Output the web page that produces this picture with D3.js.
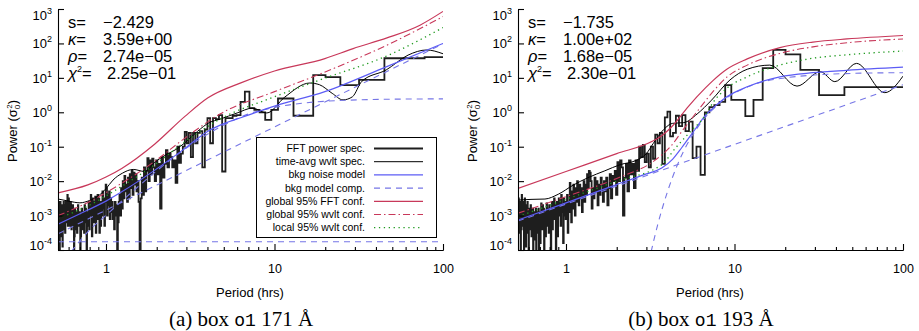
<!DOCTYPE html>
<html><head><meta charset="utf-8">
<script src="https://cdn.jsdelivr.net/npm/d3@7"></script>
<style>
body{margin:0;background:#fff}
svg{display:block}
text{font-family:"Liberation Sans",Arial,sans-serif;fill:#000}
</style>
</head><body>
<svg id="chart" width="919" height="331"></svg>
<script>
// ---------------- DATA ----------------
const DURATION_HRS = 110;               // FFT bin k sits at period DURATION_HRS / k
const periodDomain = [0.519, 100];
const powerDomain = [1e-4, 1e3];
const xTickMajor = [1, 10, 100];
const xTickMinor = [0.6,0.7,0.8,0.9,2,3,4,5,6,7,8,9,20,30,40,50,60,70,80,90];
const yTickExponents = [-4,-3,-2,-1,0,1,2,3];

const statLabels = ["s=", "κ=", "ρ=", "χ"];
const stats171 = ["−2.429", "3.59e+00", "2.74e−05", "2.25e−01"];
const stats193 = ["−1.735", "1.00e+02", "1.68e−05", "2.30e−01"];

const legendLabels = ["FFT power spec.","time-avg wvlt spec.","bkg noise model","bkg model comp.",
  "global 95% FFT conf.","global 95% wvlt conf.","local 95% wvlt conf."];

// FFT power, log10(sigma0^2), bin k = 1,2,3,... (period DURATION_HRS/k)
const fftLog10_171 = [
 1.6,1.57,0.94,0.79,1.02,1.08,-0.1,-0.1,0.40,0.40,
 0.07,-0.22,0.0,0.07,0.12,0.6,0.3,-0.08,-0.1,-0.17,
 -0.17,-1.72,-0.08,-0.2,-0.17,-0.9,-0.17,-0.5,-1.6,-0.55,
 -0.6,-0.9,-0.6,-1.3,-0.6,-0.9,-0.57,-1.0,-1.2,-1.47,
 -1.0,-2.05,-1.4,-1.6,-1.3,-1.2,-1.6,-1.1,-1.5,-1.9,
 -1.3,-2.8,-1.5,-1.8,-1.4,-2.0,-1.6,-1.35,-1.8,-1.4,
 -2.0,-1.33,-1.7,-2.3,-1.6,-2.4,-1.9,-2.5,-4.5,-2.6,
 -2.0,-2.3,-1.8,-2.1,-1.75,-2.4,-1.7,-2.2,-1.8,-2.5,
 -1.9,-2.6,-2.1,-2.3,-1.85,-2.5,-2.0,-2.8,-2.2,-3.0,
 -2.4,-2.6,-3.2,-4.3,-2.7,-3.0,-2.6,-3.4,-2.8,-3.1,
 -2.6,-2.9,-2.5,-3.1,-2.3,-2.7,-2.4,-3.0,-2.2,-2.1,
 -2.6,-3.3,-2.5,-2.8,-2.3,-3.0,-2.6,-3.3,-2.7,-3.5,
 -2.5,-2.9,-2.4,-3.1,-2.6,-3.5,-2.45,-2.8,-3.2,-2.6,
 -3.0,-2.5,-3.6,-2.7,-2.4,-3.0,-2.8,-3.4,-2.6,-3.1,
 -2.9,-3.3,-4.5,-3.0,-2.8,-3.2,-2.7,-3.5,-3.0,-2.9,
 -3.1,-3.4,-2.8,-3.0,-3.6,-4.5,-3.2,-2.9,-3.3,-3.0,
 -2.7,-3.1,-3.5,-2.9,-3.2,-3.4,-3.0,-2.8,-3.6,-4.5,
 -3.3,-3.0,-2.7,-3.2,-2.9,-3.4,-3.1,-2.6,-3.0,-3.3,
 -2.8,-3.1,-2.5,-2.9,-3.3,-2.4,-3.0,-2.7,-3.2,-2.6,
 -2.9,-3.5,-2.7,-3.1,-3.0,-2.6,-3.4,-2.8,-3.9,-3.0,
 -2.7,-3.2,-2.9,-3.6,-2.6,-3.1,-4.5,-2.8,-3.0,-3.3,-2.6,-3.2,-2.9,-3.5,-2.7,-3.0
];
const fftLog10_193 = [
 0.73,0.73,0.5,1.23,1.68,1.81,1.28,0.36,-0.11,0.36,
 0.36,0.79,0.3,0.21,0.15,0.0,-1.82,-1.0,-1.33,-0.27,
 -0.55,-0.08,-0.4,-0.1,-0.6,-0.7,0.02,-0.15,-1.5,-0.6,
 -0.9,-0.65,-1.35,-1.0,-1.6,-1.2,-1.45,-0.95,-1.3,-1.0,
 -1.7,-1.4,-2.2,-1.5,-1.8,-1.4,-2.3,-1.5,-1.9,-3.0,
 -1.6,-1.4,-2.0,-1.45,-2.4,-1.7,-2.0,-1.85,-2.5,-1.8,
 -2.2,-2.7,-1.9,-2.3,-2.0,-2.6,-2.1,-1.9,-2.4,-2.1,
 -2.7,-2.0,-2.3,-1.9,-2.5,-2.2,-2.8,-2.0,-1.75,-1.7,
 -2.2,-1.8,-2.4,-2.1,-2.6,-2.0,-2.4,-2.9,-2.2,-2.5,
 -2.1,-2.7,-2.3,-2.0,-2.6,-2.2,-3.0,-2.4,-2.1,-2.8,
 -2.3,-3.2,-2.5,-2.05,-2.9,-2.6,-3.5,-2.4,-2.8,-3.1,
 -2.6,-3.0,-2.5,-3.8,-2.7,-2.9,-2.4,-3.3,-2.7,-3.0,
 -2.5,-2.8,-3.6,-2.6,-2.9,-4.5,-2.7,-3.1,-2.5,-3.0,
 -2.9,-3.4,-2.6,-3.0,-4.5,-2.8,-3.2,-2.7,-3.5,-2.9,
 -2.8,-3.3,-2.65,-3.0,-3.6,-2.9,-3.2,-4.5,-2.8,-3.1,
 -2.7,-3.4,-3.0,-2.65,-3.3,-3.8,-2.9,-3.1,-4.5,-2.8,
 -3.2,-2.9,-3.5,-3.0,-4.5,-2.8,-3.3,-3.0,-3.7,-2.9,
 -3.1,-4.5,-2.8,-3.2,-2.9,-3.6,-3.0,-2.7,-3.4,-3.1,
 -2.8,-3.3,-4.5,-2.9,-3.0,-2.6,-3.5,-3.1,-2.8,-3.9,
 -2.7,-3.2,-2.5,-3.0,-4.5,-2.8,-3.3,-2.6,-3.1,-2.9,
 -2.4,-3.4,-2.7,-4.5,-3.0,-2.6,-3.2,-2.8,-3.5,-2.5,-3.0,-2.7,-3.3,-2.6
];

// Smooth curves: [period (hrs), log10 power]
const waveletAvg_171 = [[0.52,-2.52],[0.6,-2.58],[0.7,-2.63],[0.8,-2.56],[0.9,-2.43],[1.0,-2.22],[1.1,-1.97],[1.25,-1.77],[1.45,-1.66],[1.7,-1.72],[1.95,-1.45],[2.3,-1.22],[2.6,-1.08],[2.95,-0.88],[3.5,-0.55],[4.1,-0.3],[4.75,-0.2],[6.0,-0.02],[7.4,0.12],[9.0,-0.02],[11.5,0.44],[16.2,0.85],[18.5,0.8],[22,0.55],[25.5,0.36],[29,0.45],[33,0.9],[46,1.23],[62,1.66],[80,1.81],[100,1.7]];
const bkgModel_171 = [[0.519,-3.25],[0.78,-2.84],[1.0,-2.58],[1.24,-2.31],[1.95,-1.68],[2.94,-1.05],[4.03,-0.55],[5.0,-0.33],[6.37,-0.15],[10,0.18],[19.9,0.6],[46,1.32],[100,2.0]];
const powerLaw_171 = [[0.519,-3.53],[100,1.99]];
const kappa_171 = [[0.62,-4.05],[0.8,-3.42],[1.0,-2.99],[1.5,-2.22],[2.0,-1.7],[3.0,-1.04],[5.0,-0.37],[7.0,-0.05],[10,0.14],[20,0.32],[50,0.38],[100,0.39]];
const constant_171 = [[0.519,-3.76],[100,-3.76]];
const fftConf_171 = [[0.519,-2.34],[0.78,-2.11],[1.0,-1.88],[1.24,-1.63],[1.95,-0.92],[2.94,-0.12],[4.03,0.42],[6.37,0.86],[10,1.2],[19.9,1.56],[29.3,1.85],[46.5,2.16],[73,2.53],[100,2.93]];
const wvltGlobal_171 = [[0.519,-3.0],[0.78,-2.62],[1.24,-2.06],[1.95,-1.42],[2.94,-0.75],[4.75,-0.05],[10,0.6],[18.6,1.11],[46.5,1.95],[100,2.78]];
const wvltLocal_171 = [[0.519,-3.08],[0.78,-2.72],[1.24,-2.15],[1.95,-1.52],[2.94,-0.86],[4.75,-0.2],[10,0.45],[18.6,0.94],[46.5,1.64],[100,2.46]];

const waveletAvg_193 = [[0.52,-2.55],[0.62,-2.53],[0.75,-2.52],[0.9,-2.38],[1.1,-2.12],[1.35,-1.9],[1.7,-1.7],[2.1,-1.52],[2.6,-1.4],[3.0,-1.2],[3.3,-0.9],[3.8,-0.5],[4.3,-0.32],[5.0,-0.3],[6.0,-0.05],[7.3,0.35],[9.4,0.94],[11.9,1.25],[16.2,1.37],[23.5,0.76],[32.3,1.18],[39.4,0.89],[53,1.42],[78,0.57],[100,1.05]];
const bkgModel_193 = [[0.519,-3.13],[1.0,-2.63],[2.0,-2.1],[3.0,-1.79],[3.7,-1.62],[4.3,-1.36],[4.86,-1.03],[5.83,-0.5],[6.7,-0.1],[7.45,0.12],[9,0.45],[11.9,0.74],[18.6,1.03],[29.2,1.15],[46.5,1.22],[100,1.31]];
const powerLaw_193 = [[0.519,-3.16],[100,0.8]];
const kappa_193 = [[3.2,-4.05],[3.5,-3.27],[4.0,-2.31],[4.5,-1.62],[5.0,-1.12],[6.0,-0.46],[8.0,0.23],[12,0.74],[20,1.0],[50,1.13],[100,1.15]];
const fftConf_193 = [[0.519,-2.21],[1.0,-1.72],[2.0,-1.2],[3.23,-0.85],[3.7,-0.68],[4.24,-0.42],[5.3,0.16],[6.7,0.7],[7.45,0.92],[9,1.25],[11.9,1.55],[18.6,1.88],[29.2,2.04],[46.5,2.13],[100,2.23]];
const wvltGlobal_193 = [[0.519,-2.93],[1.0,-2.45],[2.0,-1.92],[3.38,-1.39],[4.2,-0.98],[5.0,-0.48],[6.0,0.02],[7.45,0.6],[9,1.02],[11.9,1.37],[18.6,1.71],[29.2,1.9],[46.5,2.02],[100,2.13]];
const wvltLocal_193 = [[0.519,-3.03],[1.0,-2.53],[2.0,-2.0],[3.7,-1.52],[4.5,-1.02],[5.5,-0.55],[6.7,-0.1],[7.45,0.28],[9,0.7],[11.9,1.03],[18.6,1.37],[29.2,1.57],[46.5,1.67],[100,1.78]];

// ---------------- STYLES ----------------
const ST = {
  fft:   {stroke:"#1e1e1e", width:1.8, dash:null},
  wav:   {stroke:"#000", width:1, dash:null},
  model: {stroke:"#5c5cf5", width:1.2, dash:null},
  comp:  {stroke:"#7676e6", width:1.1, dash:"6,5"},
  fconf: {stroke:"#c8385a", width:1.2, dash:null},
  gconf: {stroke:"#c8385a", width:1.1, dash:"7,3,1.5,3"},
  lconf: {stroke:"#1f9a1f", width:1.3, dash:"1.3,3.6"}
};

const panels = [
  {id:"a", ox:0, fft:fftLog10_171, wav:waveletAvg_171, model:bkgModel_171,
   comps:[powerLaw_171, kappa_171, constant_171], fconf:fftConf_171, gconf:wvltGlobal_171, lconf:wvltLocal_171,
   stats:stats171, cap:["(a) box ","o1"," 171 Å"], legend:true},
  {id:"b", ox:460, fft:fftLog10_193, wav:waveletAvg_193, model:bkgModel_193,
   comps:[powerLaw_193, kappa_193], fconf:fftConf_193, gconf:wvltGlobal_193, lconf:wvltLocal_193,
   stats:stats193, cap:["(b) box ","o1"," 193 Å"], legend:false}
];

const svg = d3.select("#chart");
const L = 58, R = 443, T = 9, B = 250;

function styleLine(sel, s){
  sel.attr("fill","none").attr("stroke",s.stroke).attr("stroke-width",s.width);
  if (s.dash) sel.attr("stroke-dasharray", s.dash);
  return sel;
}

panels.forEach(P => {
  const g = svg.append("g").attr("transform", `translate(${P.ox},0)`);
  const x = d3.scaleLog().domain(periodDomain).range([L, R]);
  const y = d3.scaleLog().domain(powerDomain).range([B, T]);
  const yv = v => y(Math.pow(10, v));

  g.append("clipPath").attr("id","clip"+P.id).append("rect")
    .attr("x",L).attr("y",T).attr("width",R-L).attr("height",B-T);
  const plot = g.append("g").attr("clip-path",`url(#clip${P.id})`);

  const smooth = d3.line().x(d => x(d[0])).y(d => yv(d[1])).curve(d3.curveMonotoneX);
  const step = d3.line().x(d => x(d[0])).y(d => yv(d[1])).curve(d3.curveStep);

  const fftPts = P.fft.map((v,i) => [DURATION_HRS/(i+1), v]).reverse();
  styleLine(plot.append("path").attr("d", step(fftPts)), ST.fft).attr("stroke-linejoin","miter");
  styleLine(plot.append("path").attr("d", smooth(P.wav)), ST.wav);
  P.comps.forEach(c => styleLine(plot.append("path").attr("d", smooth(c)), ST.comp));
  styleLine(plot.append("path").attr("d", smooth(P.model)), ST.model);
  styleLine(plot.append("path").attr("d", smooth(P.fconf)), ST.fconf);
  styleLine(plot.append("path").attr("d", smooth(P.gconf)), ST.gconf);
  styleLine(plot.append("path").attr("d", smooth(P.lconf)), ST.lconf);

  // axes
  const axMinor = d3.axisBottom(x).tickValues(xTickMinor).tickSizeInner(-3).tickSizeOuter(0).tickFormat("");
  const axMajor = d3.axisBottom(x).tickValues(xTickMajor).tickSizeInner(-6).tickSizeOuter(0)
    .tickPadding(14).tickFormat(d3.format("d"));
  const gx1 = g.append("g").attr("transform",`translate(0,${B})`).call(axMinor);
  const gx2 = g.append("g").attr("transform",`translate(0,${B})`).call(axMajor);
  const axY = d3.axisLeft(y).tickValues(yTickExponents.map(e => Math.pow(10,e)))
    .tickSizeInner(-6).tickSizeOuter(0).tickFormat("");
  const gy = g.append("g").attr("transform",`translate(${L},0)`).call(axY);
  [gx1,gx2,gy].forEach(a => {
    a.selectAll("path,line").attr("stroke","#000").attr("stroke-width",1.1);
    a.selectAll("text").style("font-family","Liberation Sans, Arial, sans-serif").style("font-size","12.5px").attr("fill","#000");
  });

  // y tick labels 10^n
  yTickExponents.forEach(e => {
    const off = e === 3 ? 10.5 : (e === -4 ? 0 : 5);
    const t = g.append("text").attr("x", 52).attr("y", y(Math.pow(10,e)) + off)
      .attr("text-anchor","end").style("font-size","13px");
    t.append("tspan").text("10");
    t.append("tspan").attr("dy",-6).style("font-size","9px").text(String(e));
  });

  // axis titles
  g.append("text").attr("x", 250).attr("y", 297).attr("text-anchor","middle")
    .style("font-size","13px").text("Period (hrs)");
  const yl = g.append("text").attr("transform","translate(17,131) rotate(-90)")
    .attr("text-anchor","middle").style("font-size","13px");
  yl.append("tspan").text("Power (σ");
  yl.append("tspan").attr("dy",3).style("font-size","8px").text("0");
  yl.append("tspan").attr("dy",-8).attr("dx",-4).style("font-size","8px").text("2");
  yl.append("tspan").attr("dy",5).text(")");

  // stats block
  const baseY = [28, 45, 62, 78.5];
  statLabels.forEach((lab,i) => {
    const t = g.append("text").attr("x",68).attr("y",baseY[i]).style("font-size","16.5px");
    if (i === 0) t.append("tspan").text("s=");
    else if (i === 3) {
      t.append("tspan").style("font-style","italic").text("χ");
      t.append("tspan").attr("dy",-7).style("font-size","9px").text("2");
      t.append("tspan").attr("dy",7).text("=");
    } else {
      t.append("tspan").style("font-style","italic").text(lab[0]);
      t.append("tspan").text("=");
    }
    g.append("text").attr("x", i === 3 ? 107 : 103).attr("y",baseY[i]).style("font-size","16.5px").text(P.stats[i]);
  });

  // caption
  const cap = g.append("text").attr("x",241).attr("y",326).attr("text-anchor","middle")
    .style("font-family","Liberation Serif, Times New Roman, serif").style("font-size","21px");
  cap.append("tspan").text(P.cap[0]);
  cap.append("tspan").style("font-family","Liberation Mono, DejaVu Sans Mono, monospace").style("font-size","18px").text(P.cap[1]);
  cap.append("tspan").text(P.cap[2]);

  // legend
  if (P.legend) {
    const lg = g.append("g");
    lg.append("rect").attr("x",256.5).attr("y",137.5).attr("width",180).attr("height",100)
      .attr("fill","#fff").attr("stroke","#000").attr("stroke-width",1);
    const styles = [ST.fft, ST.wav, ST.model, ST.comp, ST.fconf, ST.gconf, ST.lconf];
    legendLabels.forEach((lab,i) => {
      const cy = 148.5 + i*13.2;
      lg.append("text").attr("x",365).attr("y",cy+3.5).attr("text-anchor","end")
        .style("font-size","10.5px").text(lab);
      styleLine(lg.append("line").attr("x1",374).attr("x2",423).attr("y1",cy).attr("y2",cy), styles[i]);
    });
  }
});
</script>
</body></html>
